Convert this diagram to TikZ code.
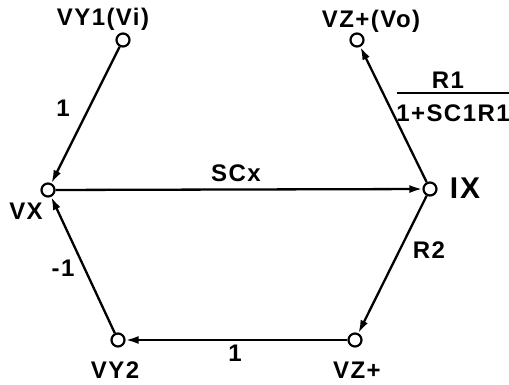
\documentclass[tikz,border=0pt]{standalone}
\usepackage{fontspec}
\setmainfont{Liberation Sans}[LetterSpace=6]
\usetikzlibrary{arrows.meta}
\begin{document}
\begin{tikzpicture}[x=1pt,y=-1pt,
  term/.style={circle,draw,fill=white,line width=2.2pt,minimum size=13pt,inner sep=0pt},
  lbl/.style={font=\fontsize{24}{26}\selectfont\bfseries,inner sep=0pt},
  wire/.style={line width=2.3pt,-{Latex[length=13pt,width=8pt]}}]
\useasboundingbox (0,0) rectangle (509,385);
\node[term] (vy1) at (123,40) {};
\node[term] (vx) at (48,190) {};
\node[term] (ix) at (430,189) {};
\node[term] (vo) at (357,40) {};
\node[term] (vy2) at (118,340) {};
\node[term] (vz) at (355,340) {};
\draw[wire] (vy1) -- (vx);
\draw[wire] (vx) -- (ix);
\draw[wire] (ix) -- (vo);
\draw[wire] (ix) -- (vz);
\draw[wire] (vz) -- (vy2);
\draw[wire] (vy2) -- (vx);
\node[lbl] (t1) at (103,19) {VY1(Vi)};
\node[lbl] (t2) at (371,21) {VZ+(Vo)};
\node[lbl] (t3) at (26,211) {VX};
\node[lbl,font=\fontsize{30}{32}\selectfont\bfseries] (t4) at (465,188) {IX};
\node[lbl] (t5) at (115,370) {VY2};
\node[lbl] (t6) at (357,370) {VZ+};
\node[lbl] (t7) at (63,108) {1};
\node[lbl] (t8) at (63,268) {-1};
\node[lbl] (t9) at (236,173) {SCx};
\node[lbl] (t10) at (235,353) {1};
\node[lbl] (t11) at (429,250) {R2};
\node[lbl] (t12) at (448,80) {R1};
\node[lbl] (t13) at (453,113) {1+SC1R1};
\draw[line width=2pt] (397,93) -- (509,93);
\end{tikzpicture}
\end{document}
